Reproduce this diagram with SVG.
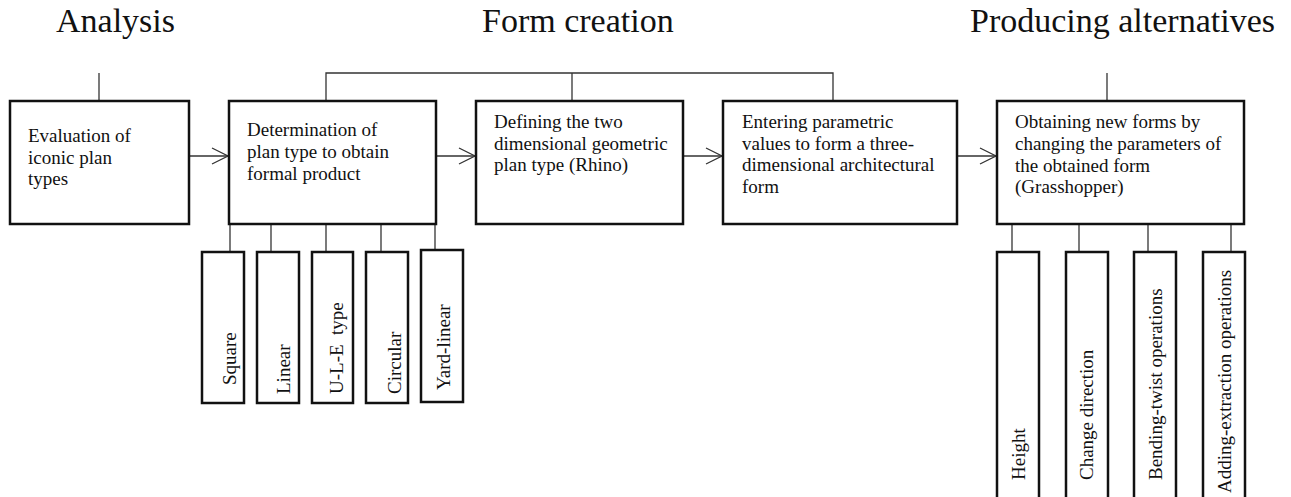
<svg xmlns="http://www.w3.org/2000/svg" width="1291" height="497" viewBox="0 0 1291 497">
<style>
text{font-family:"Liberation Serif","Times New Roman",serif;fill:#111}
.t{font-size:34px}
.b{font-size:19px}
.box{fill:#fff;stroke:#111;stroke-width:2.5}
.ln{fill:none;stroke:#333;stroke-width:1.3}
</style>
<defs>
<marker id="ah" markerWidth="20" markerHeight="20" refX="17" refY="9" orient="auto" markerUnits="userSpaceOnUse">
<path d="M1,1 L17,9 L1,17" fill="none" stroke="#333" stroke-width="1.3"/>
</marker>
</defs>
<g id="titles">
<text class="t" x="56" y="32">Analysis</text>
<text class="t" x="482" y="32">Form creation</text>
<text class="t" x="970" y="32">Producing alternatives</text>
</g>
<g id="connectors">
<line class="ln" x1="99" y1="73" x2="99" y2="101"/>
<polyline class="ln" points="326,101 326,73 833,73 833,101"/>
<line class="ln" x1="572" y1="73" x2="572" y2="101"/>
<line class="ln" x1="1107" y1="73" x2="1107" y2="101"/>
<line class="ln" x1="189" y1="156" x2="228" y2="156" marker-end="url(#ah)"/>
<line class="ln" x1="436" y1="156" x2="475" y2="156" marker-end="url(#ah)"/>
<line class="ln" x1="683" y1="156" x2="722" y2="156" marker-end="url(#ah)"/>
<line class="ln" x1="957" y1="156" x2="996" y2="156" marker-end="url(#ah)"/>
<line class="ln" x1="230" y1="224" x2="230" y2="252"/>
<line class="ln" x1="271" y1="224" x2="271" y2="252"/>
<line class="ln" x1="326" y1="224" x2="326" y2="252"/>
<line class="ln" x1="381" y1="224" x2="381" y2="252"/>
<line class="ln" x1="435" y1="224" x2="435" y2="250"/>
<line class="ln" x1="1012" y1="224" x2="1012" y2="252"/>
<line class="ln" x1="1079" y1="224" x2="1079" y2="252"/>
<line class="ln" x1="1148" y1="224" x2="1148" y2="252"/>
<line class="ln" x1="1231" y1="224" x2="1231" y2="252"/>
</g>
<g id="n1">
<rect class="box" x="10" y="101" width="179" height="123"/>
<text class="b" x="28" y="142">Evaluation of</text>
<text class="b" x="28" y="164">iconic plan</text>
<text class="b" x="28" y="185">types</text>
</g>
<g id="n2">
<rect class="box" x="229" y="101" width="207" height="123"/>
<text class="b" x="247" y="136">Determination of</text>
<text class="b" x="247" y="158">plan type to obtain</text>
<text class="b" x="247" y="180">formal product</text>
</g>
<g id="n3">
<rect class="box" x="476" y="101" width="207" height="123"/>
<text class="b" x="494" y="128">Defining the two</text>
<text class="b" x="494" y="150">dimensional geometric</text>
<text class="b" x="494" y="171">plan type (Rhino)</text>
</g>
<g id="n4">
<rect class="box" x="723" y="101" width="234" height="123"/>
<text class="b" x="742" y="128">Entering parametric</text>
<text class="b" x="742" y="150">values to form a three-</text>
<text class="b" x="742" y="171">dimensional architectural</text>
<text class="b" x="742" y="193">form</text>
</g>
<g id="n5">
<rect class="box" x="997" y="101" width="247" height="123"/>
<text class="b" x="1015" y="128">Obtaining new forms by</text>
<text class="b" x="1015" y="150">changing the parameters of</text>
<text class="b" x="1015" y="172">the obtained form</text>
<text class="b" x="1015" y="193">(Grasshopper)</text>
</g>
<g id="s1">
<rect class="box" x="202" y="252" width="42" height="151"/>
<text class="b" transform="translate(236,385) rotate(-90)">Square</text>
</g>
<g id="s2">
<rect class="box" x="257" y="252" width="42" height="151"/>
<text class="b" transform="translate(290,394) rotate(-90)">Linear</text>
</g>
<g id="s3">
<rect class="box" x="312" y="252" width="41" height="151"/>
<text class="b" transform="translate(343,394) rotate(-90)" style="white-space:pre">U-L-E  type</text>
</g>
<g id="s4">
<rect class="box" x="366" y="252" width="42" height="151"/>
<text class="b" transform="translate(401,394) rotate(-90)">Circular</text>
</g>
<g id="s5">
<rect class="box" x="421" y="250" width="42" height="152"/>
<text class="b" transform="translate(450,390) rotate(-90)">Yard-linear</text>
</g>
<g id="p1">
<rect class="box" x="997" y="252" width="42" height="260"/>
<text class="b" transform="translate(1025,480) rotate(-90)">Height</text>
</g>
<g id="p2">
<rect class="box" x="1066" y="252" width="42" height="260"/>
<text class="b" transform="translate(1093,480) rotate(-90)">Change direction</text>
</g>
<g id="p3">
<rect class="box" x="1134" y="252" width="42" height="260"/>
<text class="b" transform="translate(1162,480) rotate(-90)">Bending-twist operations</text>
</g>
<g id="p4">
<rect class="box" x="1203" y="252" width="42" height="260"/>
<text class="b" transform="translate(1231,493) rotate(-90)">Adding-extraction operations</text>
</g>
</svg>
